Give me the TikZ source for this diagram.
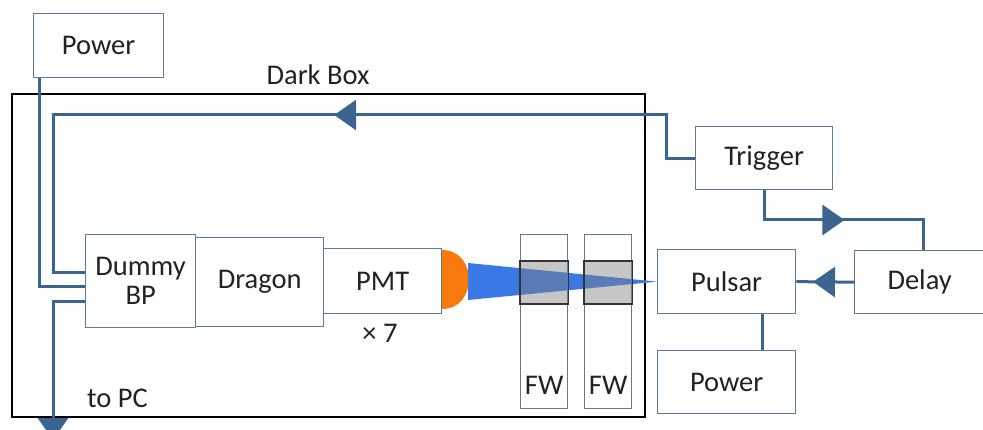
\documentclass[tikz,border=0pt]{standalone}
\usepackage{fontspec}
\setmainfont{Carlito}
\usetikzlibrary{arrows.meta,calc,decorations.markings}
\definecolor{wire}{HTML}{3B6491}
\definecolor{frame}{HTML}{5A7A9E}
\definecolor{beam}{HTML}{3A78E6}
\definecolor{lens}{HTML}{F97A0C}
\definecolor{ink}{HTML}{222222}
\tikzset{
  box/.style={draw=frame, line width=1.3pt, fill=white, inner sep=0pt,
    anchor=north west, text=ink, font=\fontsize{28.5}{30}\selectfont, align=center},
  wireline/.style={draw=wire, line width=3pt},
  midarrow/.style={postaction={decorate, decoration={markings,
    mark=at position #1 with {\arrow{Triangle[length=22pt,width=30pt]}}}}},
  label/.style={text=ink, font=\fontsize{28.5}{30}\selectfont, inner sep=0pt}
}
\begin{document}
\begin{tikzpicture}[x=1pt,y=-1pt]
\useasboundingbox (0,0) rectangle (983,430);
\clip (0,0) rectangle (983,430);

% dark box enclosure
\draw[black, line width=1.5pt] (12,94) rectangle (645,417);
\node[label] (dark) at (318,75) {Dark Box};

% instrument boxes
\node[box, minimum width=130pt, minimum height=64pt] (pwr) at (33,13) {Power};
\node[box, minimum width=110pt, minimum height=93pt] (dbp) at (85,234) {Dummy\\[-1pt]BP};
\node[box, minimum width=128pt, minimum height=89pt] (drg) at (195,237) {Dragon};
\node[box, minimum width=118pt, minimum height=65pt] (pmt) at (323,248) {PMT};
\node[label] (x7) at (380,333) {× 7};
\node[box, minimum width=137pt, minimum height=63pt] (trg) at (695,126) {Trigger};
\node[box, minimum width=138pt, minimum height=64pt] (pul) at (657,249) {Pulsar};
\node[box, minimum width=130pt, minimum height=63pt] (dly) at (854,250) {Delay};
\node[box, minimum width=138pt, minimum height=63pt] (pw2) at (657,350) {Power};

% filter wheels
\node[box, fill=none, minimum width=47pt, minimum height=174pt] (fw1) at (520,234) {};
\node[box, fill=none, minimum width=47pt, minimum height=174pt] (fw2) at (584,234) {};
\node[label] (fw1t) at ($(fw1.south)+(0,-24)$) {FW};
\node[label] (fw2t) at ($(fw2.south)+(0,-24)$) {FW};

% light source dome and beam
\fill[lens] ($(pmt.east)+(0,-31)$) .. controls +(36,0) and +(36,0) .. ($(pmt.east)+(0,28)$) -- cycle;
\fill[beam] (468,263) -- (468,300) -- (pul.west) -- cycle;

% filters in the beam
\filldraw[fill=gray, fill opacity=0.45, draw=black!80, line width=1.2pt]
  (fw1.west |- 0,261) rectangle (fw1.east |- 0,304);
\filldraw[fill=gray, fill opacity=0.45, draw=black!80, line width=1.2pt]
  (fw2.west |- 0,261) rectangle (fw2.east |- 0,304);

% cabling
\draw[wireline] ($(pwr.south west)+(6,0)$) |- ($(dbp.west)+(0,5)$);
\draw[wireline, midarrow=404pt] (trg.west) -- ++(-29,0) |- (53,115) |- ($(dbp.west)+(0,-9)$);
\draw[wireline, -{Triangle[length=22pt,width=30pt]}] ($(dbp.west)+(0,20)$) -| (53,440);
\draw[wireline, midarrow=110pt] (trg.south) |- (923,220) -- (923,0 |- dly.north);
\draw[wireline, midarrow=41pt] (dly.west) -- (pul.east);
\draw[wireline] ($(pul.south)+(36,0)$) -- ($(pw2.north)+(36,0)$);
\node[label, anchor=west] (pc) at (87,398) {to PC};
\end{tikzpicture}
\end{document}
